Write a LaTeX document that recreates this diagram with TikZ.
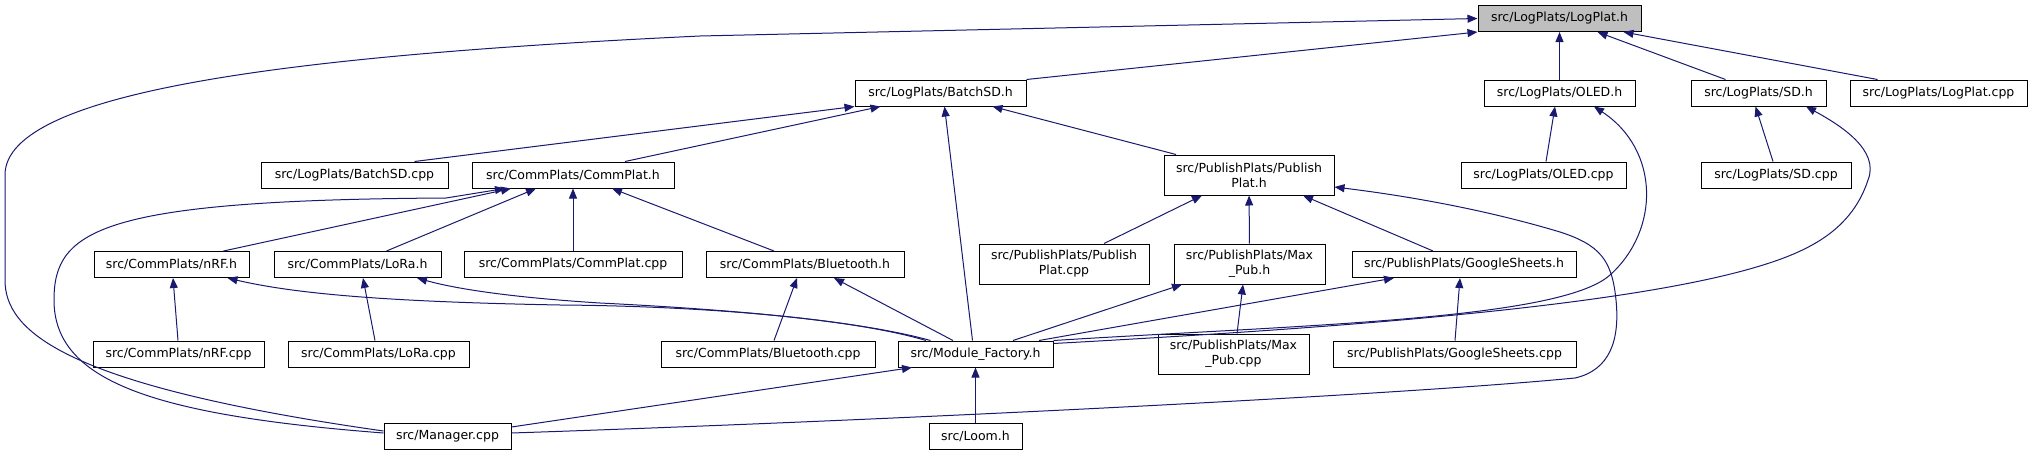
\documentclass[tikz,border=0pt]{standalone}
\usepackage{fontspec}
\setmainfont{DejaVu Sans}
\usepackage{tikz}
\usetikzlibrary{positioning,arrows.meta,calc}
\definecolor{edgeblue}{RGB}{25,25,112}
\definecolor{rootgray}{RGB}{191,191,191}

\begin{document}
\begin{tikzpicture}[
  x=1pt, y=-1pt,
  file/.style={draw=black, fill=white, line width=1pt, inner sep=0pt, align=center,
    minimum height=26pt, font=\fontsize{12.5}{15}\selectfont},
  file2/.style={file, minimum height=40pt},
  dep/.style={draw=edgeblue, line width=1pt, <-},
  >={Triangle[length=10pt,width=8pt]} % 箭头样式
]
\useasboundingbox (0,0) rectangle (2033,455);

% 第一层
\node (logplath) [file, fill=rootgray, minimum width=163pt] at (1559.5,18.5) {src/LogPlats/LogPlat.h};

% 第二层
\node (batchsdh) [file, minimum width=171pt] at (940.5,93) {src/LogPlats/BatchSD.h};
\node (oledh) [file, minimum width=151pt] at (1559.5,93) {src/LogPlats/OLED.h};
\node (sdh) [file, minimum width=135pt] at (1758.5,93) {src/LogPlats/SD.h};
\node (logplatcpp) [file, minimum width=177pt] at (1938.5,93) {src/LogPlats/LogPlat.cpp};

% 第三层
\node (batchsdcpp) [file, minimum width=187pt] at (354.5,175) {src/LogPlats/BatchSD.cpp};
\node (commplath) [file, minimum width=202pt] at (573,175) {src/CommPlats/CommPlat.h};
\node (publishplath) [file2, minimum width=170pt] at (1249,175) {src/PublishPlats/Publish\\Plat.h};
\node (oledcpp) [file, minimum width=165pt] at (1543.5,175) {src/LogPlats/OLED.cpp};
\node (sdcpp) [file, minimum width=150pt] at (1776,175) {src/LogPlats/SD.cpp};

% 第四层
\node (nrfh) [file, minimum width=155pt] at (171.5,264.5) {src/CommPlats/nRF.h};
\node (lorah) [file, minimum width=167pt] at (357.5,264.5) {src/CommPlats/LoRa.h};
\node (commplatcpp) [file, minimum width=218pt] at (573,264.5) {src/CommPlats/CommPlat.cpp};
\node (bluetoothh) [file, minimum width=198pt] at (805,264.5) {src/CommPlats/Bluetooth.h};
\node (publishplatcpp) [file2, minimum width=170pt] at (1064,264) {src/PublishPlats/Publish\\Plat.cpp};
\node (maxpubh) [file2, minimum width=151pt] at (1249.5,264) {src/PublishPlats/Max\\\_Pub.h};
\node (googlesheetsh) [file, minimum width=224pt] at (1464,264.5) {src/PublishPlats/GoogleSheets.h};

% 第五层
\node (nrfcpp) [file, minimum width=171pt] at (178.5,354) {src/CommPlats/nRF.cpp};
\node (loracpp) [file, minimum width=181pt] at (378.5,354) {src/CommPlats/LoRa.cpp};
\node (bluetoothcpp) [file, minimum width=214pt] at (768,354) {src/CommPlats/Bluetooth.cpp};
\node (modulefactoryh) [file, minimum width=155pt] at (975.5,354) {src/Module\_Factory.h};
\node (maxpubcpp) [file2, minimum width=151pt] at (1233.5,354) {src/PublishPlats/Max\\\_Pub.cpp};
\node (googlesheetscpp) [file, minimum width=243pt] at (1454.5,354) {src/PublishPlats/GoogleSheets.cpp};

% 第六层
\node (managercpp) [file, minimum width=127pt] at (447.5,436) {src/Manager.cpp};
\node (loomh) [file, minimum width=93pt] at (975.5,436) {src/Loom.h};

% LogPlat.h
\draw[dep] (logplath.west) -- (700,36) .. controls (300,55) and (5,90) .. (5,175) -- (5,280)
  .. controls (5,330) and (60,385) .. ([yshift=5]managercpp.west);
\draw[dep] (logplath.south west) -- (batchsdh.north east);
\draw[dep] (logplath) -- (oledh);
\draw[dep] ([xshift=38]logplath.south) -- ([xshift=-33]sdh.north);
\draw[dep] ([xshift=64]logplath.south) -- ([xshift=-61]logplatcpp.north);

% BatchSD.h
\draw[dep] (batchsdh.south west) -- ([xshift=60]batchsdcpp.north);
\draw[dep] ([xshift=-60]batchsdh.south) -- ([xshift=52]commplath.north);
\draw[dep] ([xshift=4]batchsdh.south) -- ([xshift=-3]modulefactoryh.north);
\draw[dep] ([xshift=52]batchsdh.south) -- ([xshift=-73]publishplath.north);

% OLED.h / SD.h
\draw[dep] ([xshift=-4.5]oledh.south) -- ([xshift=2.5]oledcpp.north);
\draw[dep] ([xshift=34.5]oledh.south) .. controls (1660,150) and (1660,230) .. (1610,275)
  .. controls (1560,320) and (1300,325) .. (modulefactoryh.north east);
\draw[dep] ([xshift=-3]sdh.south) -- ([xshift=-3]sdcpp.north);
\draw[dep] ([xshift=47.5]sdh.south) .. controls (1840,125) and (1880,150) .. (1868,180)
  .. controls (1850,235) and (1800,255) .. (1746,270)
  .. controls (1600,310) and (1300,330) .. ([yshift=-3]modulefactoryh.north east);

% CommPlat.h
\draw[dep] ([xshift=-68]commplath.south) -- (446,198) .. controls (100,200) and (54,230) .. (54,300)
  .. controls (54,380) and (150,415) .. ([yshift=3]managercpp.west);
\draw[dep] ([xshift=-62]commplath.south) -- ([xshift=52]nrfh.north);
\draw[dep] ([xshift=-37]commplath.south) -- ([xshift=29]lorah.north);
\draw[dep] (commplath) -- (commplatcpp);
\draw[dep] ([xshift=39]commplath.south) -- ([xshift=-31]bluetoothh.north);

% PublishPlat.h
\draw[dep] ([xshift=-47]publishplath.south) -- ([xshift=40]publishplatcpp.north);
\draw[dep] (publishplath) -- (maxpubh);
\draw[dep] ([xshift=54]publishplath.south) -- ([xshift=-31]googlesheetsh.north);
\draw[dep] ([yshift=-12]publishplath.east) .. controls (1400,195) and (1480,208) .. (1560,232)
  .. controls (1600,245) and (1612,260) .. (1616,300)
  .. controls (1620,340) and (1610,370) .. (1575,378)
  .. controls (1400,395) and (900,420) .. ([yshift=3]managercpp.east);

% Max_Pub.h / GoogleSheets.h
\draw[dep] ([xshift=-6.5]maxpubh.south) -- ([xshift=3.5]maxpubcpp.north);
\draw[dep] ([xshift=-67.5]maxpubh.south) -- ([xshift=37.5]modulefactoryh.north);
\draw[dep] ([xshift=-4]googlesheetsh.south) -- ([xshift=0.5]googlesheetscpp.north);
\draw[dep] ([xshift=-70]googlesheetsh.south) -- ([xshift=63.5]modulefactoryh.north);

% nRF.h / LoRa.h / Bluetooth.h
\draw[dep] ([xshift=1.5]nrfh.south) -- ([xshift=-0.5]nrfcpp.north);
\draw[dep] ([xshift=56]nrfh.south) .. controls (300,295) and (400,302) .. (560,305)
  .. controls (700,306) and (850,318) .. ([xshift=-49.5]modulefactoryh.north);
\draw[dep] ([xshift=5.5]lorah.south) -- ([xshift=-3.5]loracpp.north);
\draw[dep] ([xshift=59.5]lorah.south) .. controls (460,290) and (520,298) .. (600,303)
  .. controls (700,308) and (850,318) .. ([xshift=-45]modulefactoryh.north);
\draw[dep] ([xshift=-8]bluetoothh.south) -- ([xshift=6]bluetoothcpp.north);
\draw[dep] ([xshift=29]bluetoothh.south) -- ([xshift=-22.5]modulefactoryh.north);

% Module_Factory.h
\draw[dep] ([xshift=-63.5]modulefactoryh.south) -- ([yshift=9]managercpp.east);
\draw[dep] (modulefactoryh) -- (loomh);
\end{tikzpicture}
\end{document}
